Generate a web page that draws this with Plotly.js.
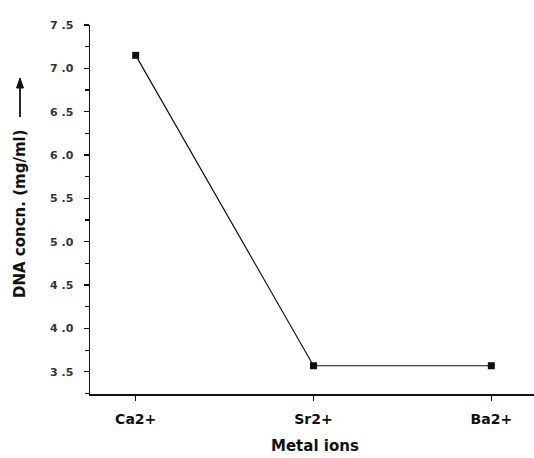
<!DOCTYPE html>
<html>
<head>
<meta charset="utf-8">
<script src="https://cdn.plot.ly/plotly-3.0.1.min.js"></script>
<style>html,body{margin:0;padding:0;background:#fff;}#chart{width:534px;height:458px;}</style>
</head>
<body>
<div id="chart"></div>
<script>
const categories = ["Ca2+", "Sr2+", "Ba2+"];
const dnaConc = [7.15, 3.57, 3.57];
const yTickVals = [3.5, 4.0, 4.5, 5.0, 5.5, 6.0, 6.5, 7.0, 7.5];
const yTickText = ["3\u00A0.5", "4\u00A0.0", "4\u00A0.5", "5\u00A0.0", "5\u00A0.5", "6\u00A0.0", "6\u00A0.5", "7\u00A0.0", "7\u00A0.5"];
const xTitle = "Metal ions";
const yTitle = "DNA concn. (mg/ml)";

const FONT = "DejaVu Sans, Liberation Sans, sans-serif";
const PW = 444, PH = 369, L = 90, T = 25;
const px = x => (x - L) / PW;
const py = y => (T + PH - y) / PH;

const trace = {
  x: [0, 1, 2],
  y: dnaConc,
  type: "scatter",
  mode: "lines+markers",
  line: {color: "#111", width: 1.2},
  marker: {symbol: "square", size: 7, color: "#111"},
  hoverinfo: "skip"
};

// decorative arrow beside the y-axis title (paper coordinates)
const arrowX = px(20);
const shaftPath = `M ${arrowX},${py(117)} L ${arrowX},${py(82)}`;
const headPath = `M ${px(16.5)},${py(88)} L ${arrowX},${py(78)} L ${px(23.5)},${py(88)} Z`;

const layout = {
  width: 534, height: 458,
  margin: {l: L, r: 0, t: T, b: 458 - T - PH},
  paper_bgcolor: "#fff", plot_bgcolor: "#fff",
  showlegend: false,
  font: {family: FONT, color: "#111"},
  xaxis: {
    range: [-0.257, 2.24],
    tickvals: [0, 1, 2],
    ticktext: categories,
    showgrid: false, zeroline: false,
    showline: true, linecolor: "#111", linewidth: 1.5,
    ticks: "outside", ticklen: 5, tickwidth: 1.3, tickcolor: "#111",
    tickfont: {size: 14, family: FONT, weight: "bold", color: "#111"},
    ticklabelstandoff: 7,
    title: {text: ""}
  },
  yaxis: {
    range: [3.244, 7.5],
    tickvals: yTickVals,
    ticktext: yTickText,
    showgrid: false, zeroline: false,
    showline: true, linecolor: "#111", linewidth: 1.5,
    ticks: "outside", ticklen: 5, tickwidth: 1.3, tickcolor: "#111",
    tickfont: {size: 11, family: FONT, weight: "bold", color: "#333"},
    ticklabelstandoff: 8,
    minor: {dtick: 0.25, tick0: 3.5, ticks: "outside", ticklen: 4, tickwidth: 1.2, tickcolor: "#111", showgrid: false},
    title: {text: ""}
  },
  shapes: [
    {type: "path", xref: "paper", yref: "paper", path: shaftPath, line: {color: "#111", width: 1.8}},
    {type: "path", xref: "paper", yref: "paper", path: headPath, line: {color: "#111", width: 1}, fillcolor: "#111"}
  ],
  annotations: [
    {
      text: "<b>" + xTitle + "</b>",
      xref: "paper", yref: "paper",
      x: px(315), y: py(446),
      xanchor: "center", yanchor: "middle",
      showarrow: false,
      font: {size: 15, family: FONT, color: "#111"}
    },
    {
      text: "<b>" + yTitle + "</b>",
      xref: "paper", yref: "paper",
      x: px(20), y: py(214),
      xanchor: "center", yanchor: "middle",
      textangle: -90,
      showarrow: false,
      font: {size: 15, family: FONT, color: "#111"}
    }
  ]
};

Plotly.newPlot("chart", [trace], layout, {displayModeBar: false, staticPlot: true});
</script>
</body>
</html>
